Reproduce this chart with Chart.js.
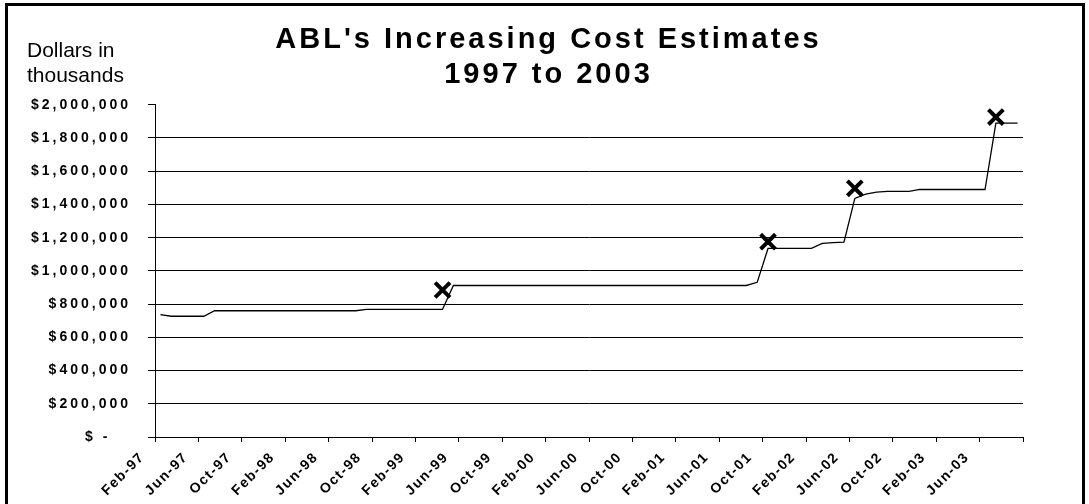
<!DOCTYPE html>
<html>
<head>
<meta charset="utf-8">
<script src="https://cdn.jsdelivr.net/npm/chart.js@4.4.1/dist/chart.umd.min.js"></script>
<style>
  html, body { margin: 0; padding: 0; background: #fff; }
  #wrap { position: relative; width: 1089px; height: 504px; overflow: hidden; }
  #frame { position: absolute; left: 5px; top: 3px; width: 1080px; height: 530px; border: 3px solid #000; box-sizing: border-box; pointer-events: none; }
  #unit { position: absolute; left: 27px; top: 37px; font: 21px "Liberation Sans", Arial, sans-serif; line-height: 25px; color: #000; }
</style>
</head>
<body>
<div id="wrap">
  <canvas id="costChart"></canvas>
  <div id="unit">Dollars in<br>thousands</div>
  <div id="frame"></div>
</div>
<script>
// months, Feb-97 .. Sep-03
const months = [
  'Feb-97', 'Mar-97', 'Apr-97', 'May-97', 'Jun-97', 'Jul-97', 'Aug-97', 'Sep-97', 'Oct-97', 'Nov-97', 'Dec-97',
  'Jan-98', 'Feb-98', 'Mar-98', 'Apr-98', 'May-98', 'Jun-98', 'Jul-98', 'Aug-98', 'Sep-98', 'Oct-98', 'Nov-98', 'Dec-98',
  'Jan-99', 'Feb-99', 'Mar-99', 'Apr-99', 'May-99', 'Jun-99', 'Jul-99', 'Aug-99', 'Sep-99', 'Oct-99', 'Nov-99', 'Dec-99',
  'Jan-00', 'Feb-00', 'Mar-00', 'Apr-00', 'May-00', 'Jun-00', 'Jul-00', 'Aug-00', 'Sep-00', 'Oct-00', 'Nov-00', 'Dec-00',
  'Jan-01', 'Feb-01', 'Mar-01', 'Apr-01', 'May-01', 'Jun-01', 'Jul-01', 'Aug-01', 'Sep-01', 'Oct-01', 'Nov-01', 'Dec-01',
  'Jan-02', 'Feb-02', 'Mar-02', 'Apr-02', 'May-02', 'Jun-02', 'Jul-02', 'Aug-02', 'Sep-02', 'Oct-02', 'Nov-02', 'Dec-02',
  'Jan-03', 'Feb-03', 'Mar-03', 'Apr-03', 'May-03', 'Jun-03', 'Jul-03', 'Aug-03', 'Sep-03'
];

// estimated cost, dollars in thousands (same order as months)
const costs = [
  737000, 727000, 727000, 727000, 727000, 760000, 760000, 760000, 760000, 760000, 760000,
  760000, 760000, 760000, 760000, 760000, 760000, 760000, 760000, 768000, 768000, 768000, 768000,
  768000, 768000, 768000, 768000, 912000, 912000, 912000, 912000, 912000, 912000, 912000, 912000,
  912000, 912000, 912000, 912000, 912000, 912000, 912000, 912000, 912000, 912000, 912000, 912000,
  912000, 912000, 912000, 912000, 912000, 912000, 912000, 912000, 931000, 1135000, 1135000, 1135000,
  1135000, 1135000, 1165000, 1170000, 1173000, 1436000, 1462000, 1474000, 1478000, 1478000, 1478000, 1490000,
  1490000, 1490000, 1490000, 1490000, 1490000, 1490000, 1890000, 1890000, 1890000
];

// the "X" marks
const markMonths = ['Apr-99', 'Oct-01', 'Jun-02', 'Jul-03'];
const markValues = [885000, 1176000, 1497000, 1926000];

const yTicks = [0, 200000, 400000, 600000, 800000, 1000000, 1200000, 1400000, 1600000, 1800000, 2000000];

const FONT = '"Liberation Sans", Arial, sans-serif';

const marks = months.map((m) => {
  const k = markMonths.indexOf(m);
  return k >= 0 ? markValues[k] : null;
});

// Excel style spaced-out lettering
const spacing = {
  id: 'spacing',
  beforeLayout(chart) { chart.ctx.letterSpacing = '3px'; },
  beforeDraw(chart) { chart.ctx.letterSpacing = '3px'; }
};

const ctx = document.getElementById('costChart').getContext('2d');
new Chart(ctx, {
  type: 'line',
  data: {
    labels: months,
    datasets: [
      {
        label: 'Cost estimate',
        data: costs,
        borderColor: '#000',
        borderWidth: 1.3,
        pointRadius: 0,
        tension: 0,
        fill: false
      },
      {
        label: 'Marks',
        data: marks,
        showLine: false,
        pointStyle: 'crossRot',
        pointRadius: 10.5,
        pointBorderWidth: 4,
        pointBorderColor: '#000',
        pointBackgroundColor: '#000'
      }
    ]
  },
  options: {
    responsive: true,
    maintainAspectRatio: false,
    animation: false,
    layout: { padding: { left: 8, right: 0, top: 4, bottom: 0 } },
    plugins: {
      legend: { display: false },
      tooltip: { enabled: false },
      title: {
        display: true,
        text: ["ABL's Increasing Cost Estimates", '1997 to 2003'],
        color: '#000',
        font: { family: FONT, size: 29, weight: 'bold', lineHeight: 1.22 },
        padding: { top: 18, bottom: 12 }
      }
    },
    scales: {
      x: {
        type: 'category',
        offset: true,
        grid: {
          offset: true,
          drawOnChartArea: false,
          drawTicks: true,
          tickLength: 5,
          tickColor: (c) => (c.type === 'scale' || c.index % 4 === 0 ? '#000' : 'rgba(0,0,0,0)')
        },
        border: { display: true, color: '#000', width: 1 },
        ticks: {
          autoSkip: false,
          maxRotation: 45,
          minRotation: 45,
          padding: 7,
          labelOffset: -18,
          color: '#000',
          font: { family: FONT, size: 14, weight: 'bold' },
          callback: function (v, i) { return i % 4 === 0 ? this.getLabelForValue(v) : ''; }
        },
        afterFit(axis) { axis.height = 67; },
        afterUpdate(axis) {
          if (axis._spaced) return;
          const orig = axis.drawLabels.bind(axis);
          axis.drawLabels = function (area) {
            const c = this.ctx;
            const prev = c.letterSpacing;
            c.letterSpacing = '1.5px';
            orig(area);
            c.letterSpacing = prev;
          };
          axis._spaced = true;
        }
      },
      y: {
        min: 0,
        max: 2000000,
        afterBuildTicks(axis) { axis.ticks = yTicks.map((v) => ({ value: v })); },
        afterFit(axis) { axis.width = 147; },
        grid: {
          color: (c) => (c.tick && c.tick.value === 2000000 ? 'rgba(0,0,0,0)' : '#000'),
          tickColor: '#000',
          tickLength: 7,
          lineWidth: 1
        },
        border: { display: true, color: '#000', width: 1 },
        ticks: {
          padding: 17,
          color: '#000',
          font: { family: FONT, size: 14, weight: 'bold' },
          callback: (v) => (v === 0 ? '$ -   ' : '$' + v.toLocaleString('en-US'))
        }
      },
      // empty right-hand strip, keeps the plot narrower than the title box
      side: {
        type: 'linear',
        position: 'right',
        display: true,
        grid: { display: false },
        border: { display: false },
        ticks: { display: false },
        afterFit(axis) { axis.width = 66; }
      }
    }
  },
  plugins: [spacing]
});
</script>
</body>
</html>
